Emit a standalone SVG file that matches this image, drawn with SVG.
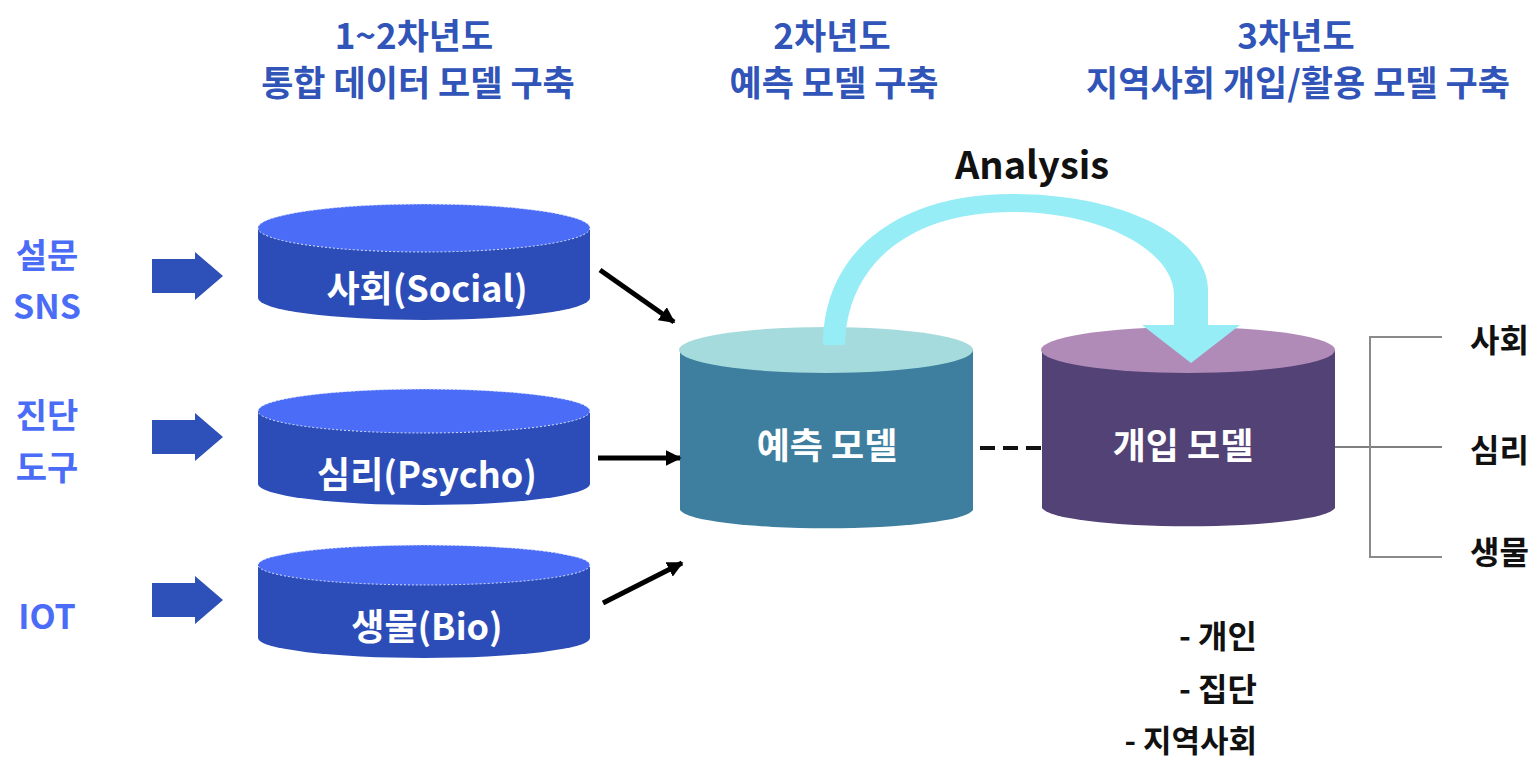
<svg xmlns="http://www.w3.org/2000/svg" width="1539" height="760" viewBox="0 0 1539 760">
<defs>
<style>
text{font-family:"Noto Sans CJK KR","Noto Sans",sans-serif;font-weight:700}
.hdr{fill:#3054b8;font-size:35px;text-anchor:middle}
.inp{fill:#4b6cf6;font-size:34px;text-anchor:middle}
.cyl{fill:#ffffff;font-size:36px;text-anchor:middle}
.blk{fill:#111111;font-size:32px}
.btop{fill:#4a6cf7;stroke:#dfe6ff;stroke-width:1;stroke-dasharray:2 2}
.bbody{fill:#2c4db8}
.barr{fill:#2d50b9}
.conn{stroke:#000;stroke-width:5;fill:none}
</style>
<marker id="ah" viewBox="0 0 10 10" refX="9" refY="5" markerWidth="3.2" markerHeight="3.2" orient="auto" markerUnits="strokeWidth">
<path d="M0,0 L10,5 L0,10 Z" fill="#000"/>
</marker>
</defs>
<rect width="1539" height="760" fill="#fff"/>

<g id="headers">
<text class="hdr" x="414" y="33" dominant-baseline="central">1~2차년도</text>
<text class="hdr" x="418" y="80" dominant-baseline="central">통합 데이터 모델 구축</text>
<text class="hdr" x="832" y="33" dominant-baseline="central">2차년도</text>
<text class="hdr" x="834" y="80" dominant-baseline="central">예측 모델 구축</text>
<text class="hdr" x="1296" y="33" dominant-baseline="central">3차년도</text>
<text class="hdr" x="1298" y="80" dominant-baseline="central">지역사회 개입/활용 모델 구축</text>
</g>

<g id="inputs">
<g id="input-survey">
<text class="inp" x="47" y="253" dominant-baseline="central">설문</text>
<text class="inp" x="47" y="304" dominant-baseline="central">SNS</text>
<path class="barr" d="M152,259 L195,259 L195,252 L223,276 L195,300 L195,293 L152,293 Z"/>
</g>
<g id="input-diag">
<text class="inp" x="47" y="413" dominant-baseline="central">진단</text>
<text class="inp" x="47" y="465" dominant-baseline="central">도구</text>
<path class="barr" d="M152,420 L195,420 L195,413 L223,437 L195,461 L195,454 L152,454 Z"/>
</g>
<g id="input-iot">
<text class="inp" x="47" y="614" dominant-baseline="central">IOT</text>
<path class="barr" d="M152,583 L195,583 L195,576 L223,600 L195,624 L195,617 L152,617 Z"/>
</g>
</g>

<g id="node-social">
<path class="bbody" d="M258,228 L258,298 A166,22 0 0 0 590,298 L590,228 Z"/>
<ellipse class="btop" cx="424" cy="228" rx="166" ry="24"/>
<text class="cyl" x="427" y="286" dominant-baseline="central">사회(Social)</text>
</g>
<g id="node-psycho">
<path class="bbody" d="M258,411 L258,484 A166,21 0 0 0 590,484 L590,411 Z"/>
<ellipse class="btop" cx="424" cy="411" rx="166" ry="22"/>
<text class="cyl" x="427" y="472" dominant-baseline="central">심리(Psycho)</text>
</g>
<g id="node-bio">
<path class="bbody" d="M258,565 L258,638 A166,20 0 0 0 590,638 L590,565 Z"/>
<ellipse class="btop" cx="424" cy="565" rx="166" ry="20"/>
<text class="cyl" x="427" y="624" dominant-baseline="central">생물(Bio)</text>
</g>

<g id="node-predict">
<path fill="#3e7f9f" d="M680,350 L680,510 A147,20 0 0 0 973,510 L973,350 Z"/>
<ellipse fill="#a5dbdc" cx="826" cy="350" rx="147" ry="23"/>
<text class="cyl" x="827" y="443" dominant-baseline="central">예측 모델</text>
</g>

<g id="node-intervene">
<path fill="#534275" d="M1042,350 L1042,508 A147,20 0 0 0 1335,508 L1335,350 Z"/>
<ellipse fill="#b08bb8" cx="1188" cy="350" rx="147" ry="23"/>
<text class="cyl" x="1183" y="443" dominant-baseline="central">개입 모델</text>
</g>

<g id="connectors">
<line class="conn" x1="600" y1="270" x2="674" y2="322" marker-end="url(#ah)"/>
<line class="conn" x1="598" y1="458" x2="680" y2="458" marker-end="url(#ah)"/>
<line class="conn" x1="603" y1="603" x2="682" y2="563" marker-end="url(#ah)"/>
<line x1="975" y1="448" x2="1042" y2="448" stroke="#111" stroke-width="4" stroke-dasharray="15 8" stroke-dashoffset="-5"/>
<line x1="1335" y1="447" x2="1442" y2="447" stroke="#555" stroke-width="1.5"/>
<path d="M1442,337 L1370,337 L1370,557 L1442,557" fill="none" stroke="#8a8a8a" stroke-width="2"/>
<path fill="#96edf6" d="M823,345 C823,250 900,194 1012,194 C1125,194 1208,238 1208,290 L1208,325 L1240,325 L1191,363 L1142,325 L1174,325 L1174,295 C1174,252 1105,212 1012,212 C912,212 847,262 845,345 Z"/>
<text class="blk" x="1032" y="162" dominant-baseline="central" text-anchor="middle" style="font-size:38px">Analysis</text>
</g>

<g id="outputs">
<text class="blk" x="1470" y="338" dominant-baseline="central">사회</text>
<text class="blk" x="1470" y="448" dominant-baseline="central">심리</text>
<text class="blk" x="1470" y="550" dominant-baseline="central">생물</text>
<text class="blk" x="1257" y="634" dominant-baseline="central" text-anchor="end">- 개인</text>
<text class="blk" x="1257" y="687" dominant-baseline="central" text-anchor="end">- 집단</text>
<text class="blk" x="1257" y="738" dominant-baseline="central" text-anchor="end" style="font-size:31px">- 지역사회</text>
</g>
</svg>
